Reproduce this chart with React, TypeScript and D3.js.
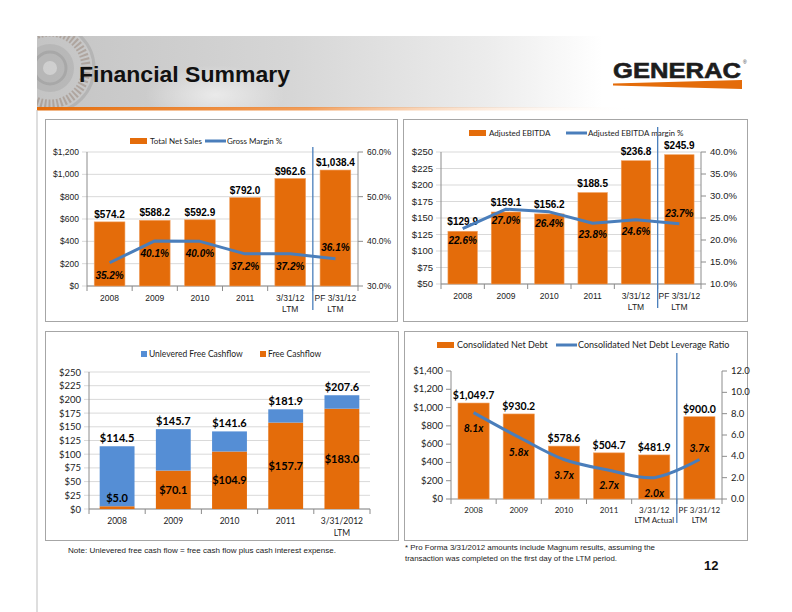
import React from 'react';
import * as d3 from 'd3';

// ---------- DATA ----------
const salesCats: string[][] = [["2008"], ["2009"], ["2010"], ["2011"], ["3/31/12", "LTM"], ["PF 3/31/12", "LTM"]];
const netSales = [574.2, 588.2, 592.9, 792.0, 962.6, 1038.4];
const grossMargin = [35.2, 40.1, 40.0, 37.2, 37.2, 36.1];
const salesTicks = [0, 200, 400, 600, 800, 1000, 1200];
const marginTicks = [30, 40, 50, 60];

const ebitdaCats: string[][] = [["2008"], ["2009"], ["2010"], ["2011"], ["3/31/12", "LTM"], ["PF 3/31/12", "LTM"]];
const ebitda = [129.9, 159.1, 156.2, 188.5, 236.8, 245.9];
const ebitdaMargin = [22.6, 27.0, 26.4, 23.8, 24.6, 23.7];
const ebitdaTicks = [50, 75, 100, 125, 150, 175, 200, 225, 250];
const ebitdaMarginTicks = [10, 15, 20, 25, 30, 35, 40];

const cashCats: string[][] = [["2008"], ["2009"], ["2010"], ["2011"], ["3/31/2012", "LTM"]];
const unleveredFcf = [114.5, 145.7, 141.6, 181.9, 207.6];
const freeCashflow = [5.0, 70.1, 104.9, 157.7, 183.0];
const cashTicks = [0, 25, 50, 75, 100, 125, 150, 175, 200, 225, 250];

const debtCats: string[][] = [["2008"], ["2009"], ["2010"], ["2011"], ["3/31/12", "LTM Actual"], ["PF 3/31/12", "LTM"]];
const netDebt = [1049.7, 930.2, 578.6, 504.7, 481.9, 900.0];
const leverage = [8.1, 5.8, 3.7, 2.7, 2.0, 3.7];
const debtTicks = [0, 200, 400, 600, 800, 1000, 1200, 1400];
const leverageTicks = [0, 2, 4, 6, 8, 10, 12];

// ---------- STYLE ----------
const ORANGE = '#E46C0A';
const BLUE_LINE = '#4A7EBB';
const BLUE_BAR = '#558ED5';
const GRID = '#D9D9D9';
const AXIS = '#8C8C8C';
const ARIAL = '"Liberation Sans", Arial, sans-serif';
const CALIBRI = 'Lato, "Open Sans", sans-serif';

const money = (v: number) => '$' + d3.format(',.1f')(v);
const moneyTick = (v: number) => '$' + d3.format(',')(v);

type LegendItem = { kind: 'rect' | 'line' | 'square'; color: string; label: string; x: number };

function Legend({ items, y, font, size }: { items: LegendItem[]; y: number; font: string; size: number }) {
  return (
    <g>
      {items.map((it, i) => (
        <g key={i}>
          {it.kind === 'rect' && <rect x={it.x} y={y - 3} width={17} height={6} fill={it.color} />}
          {it.kind === 'square' && <rect x={it.x} y={y - 3} width={6} height={6} fill={it.color} />}
          {it.kind === 'line' && <line x1={it.x} x2={it.x + 21} y1={y} y2={y} stroke={it.color} strokeWidth={3} />}
          <text x={it.x + (it.kind === 'square' ? 8 : it.kind === 'rect' ? 20 : 22)} y={y + 3} fontFamily={font} fontSize={size} fill="#222">
            {it.label}
          </text>
        </g>
      ))}
    </g>
  );
}

type ComboCfg = {
  cats: string[][];
  bars: number[];
  line: number[];
  left: number; right: number; top: number; bottom: number;
  yDomain: [number, number]; yTicks: number[]; yFmt: (v: number) => string;
  y2Domain: [number, number]; y2Ticks: number[]; y2Fmt: (v: number) => string;
  barFmt: (v: number) => string; lineFmt: (v: number) => string;
  grid: boolean; pad: number;
  tickFont: string; tickSize: number; catFont: string; catSize: number;
  valFont: string; valSize: number; valDy: number;
  lineDyBelow: number; lineDyAbove: number;
  catY: number; curve?: any;
  sepTop: number; sepBottom: number;
};

function Combo(p: ComboCfg) {
  const n = p.cats.length;
  const x = d3.scaleBand<number>().domain(d3.range(n)).range([p.left, p.right]).paddingInner(p.pad).paddingOuter(p.pad / 2);
  const y = d3.scaleLinear().domain(p.yDomain).range([p.bottom, p.top]);
  const y2 = d3.scaleLinear().domain(p.y2Domain).range([p.bottom, p.top]);
  const bw = x.bandwidth();
  const step = x.step();
  const cx = (i: number) => (x(i) as number) + bw / 2;
  const boundary = (i: number) => (i === n ? p.right : (x(i) as number) - (step * p.pad) / 2);
  const lineGen = d3.line<number>().x((_, i) => cx(i)).y((d) => y2(d)).curve(p.curve ?? d3.curveLinear);
  const sepX = boundary(n - 1);
  return (
    <g>
      {p.grid && p.yTicks.map((t) => (
        <line key={'g' + t} x1={p.left - 5} x2={p.right} y1={y(t)} y2={y(t)} stroke={GRID} strokeWidth={1} />
      ))}
      {!p.grid && p.yTicks.map((t) => (
        <line key={'g' + t} x1={p.left - 5} x2={p.left} y1={y(t)} y2={y(t)} stroke={AXIS} strokeWidth={1} />
      ))}
      {p.yTicks.map((t) => (
        <text key={'t' + t} x={p.left - 8} y={y(t) + 3} textAnchor="end" fontFamily={p.tickFont} fontSize={p.tickSize} fill="#222">{p.yFmt(t)}</text>
      ))}
      {p.y2Ticks.map((t) => (
        <g key={'r' + t}>
          <line x1={p.right} x2={p.right + 5} y1={y2(t)} y2={y2(t)} stroke={AXIS} />
          <text x={p.right + 9} y={y2(t) + 3} fontFamily={p.tickFont} fontSize={p.tickSize} fill="#222">{p.y2Fmt(t)}</text>
        </g>
      ))}
      <line x1={p.left} x2={p.left} y1={p.top} y2={p.bottom} stroke={AXIS} />
      <line x1={p.right} x2={p.right} y1={p.top} y2={p.bottom} stroke={AXIS} />
      <line x1={p.left} x2={p.right} y1={p.bottom} y2={p.bottom} stroke={AXIS} />
      {d3.range(n + 1).map((i) => (
        <line key={'b' + i} x1={boundary(i)} x2={boundary(i)} y1={p.bottom} y2={p.bottom + 5} stroke={AXIS} />
      ))}
      {p.bars.map((v, i) => (
        <rect key={'bar' + i} x={x(i)} y={y(v)} width={bw} height={p.bottom - y(v)} fill={ORANGE} stroke="#F0A060" strokeWidth={0.6} />
      ))}
      {p.bars.map((v, i) => (
        <text key={'bv' + i} x={cx(i)} y={y(v) - p.valDy} textAnchor="middle" fontFamily={p.valFont} fontWeight="bold" fontSize={p.valSize} fill="#000">{p.barFmt(v)}</text>
      ))}
      <path d={lineGen(p.line) || ''} fill="none" stroke={BLUE_LINE} strokeWidth={3} strokeLinejoin="round" />
      {p.line.map((v, i) => (
        <text key={'lv' + i} x={cx(i)} y={y2(v) + (i === n - 1 ? p.lineDyAbove : p.lineDyBelow)} textAnchor="middle" fontFamily={p.valFont} fontWeight="bold" fontStyle="italic" fontSize={p.valSize} fill="#000">{p.lineFmt(v)}</text>
      ))}
      {p.cats.map((c, i) => (
        <text key={'c' + i} x={cx(i)} y={p.catY} textAnchor="middle" fontFamily={p.catFont} fontSize={p.catSize} fill="#222">
          {c.map((s, j) => (
            <tspan key={j} x={cx(i)} dy={j === 0 ? 0 : p.catSize + 2}>{s}</tspan>
          ))}
        </text>
      ))}
      <line x1={sepX} x2={sepX} y1={p.sepTop} y2={p.sepBottom} stroke={BLUE_LINE} strokeWidth={1.3} />
    </g>
  );
}

function Stacked() {
  const left = 89, right = 370, top = 372, bottom = 509, pad = 0.38;
  const n = cashCats.length;
  const x = d3.scaleBand<number>().domain(d3.range(n)).range([left, right]).paddingInner(pad).paddingOuter(pad / 2);
  const y = d3.scaleLinear().domain([0, 250]).range([bottom, top]);
  const bw = x.bandwidth();
  const step = x.step();
  const cx = (i: number) => (x(i) as number) + bw / 2;
  const boundary = (i: number) => (i === n ? right : (x(i) as number) - (step * pad) / 2);
  return (
    <g>
      {cashTicks.map((t) => (
        <g key={t}>
          <line x1={left - 5} x2={right} y1={y(t)} y2={y(t)} stroke={GRID} />
          <text x={left - 8} y={y(t) + 3.5} textAnchor="end" fontFamily={CALIBRI} fontSize={9.5} fill="#222">{moneyTick(t)}</text>
        </g>
      ))}
      <line x1={left} x2={left} y1={top} y2={bottom} stroke={AXIS} />
      <line x1={left} x2={right} y1={bottom} y2={bottom} stroke={AXIS} />
      {d3.range(n + 1).map((i) => (
        <line key={'b' + i} x1={boundary(i)} x2={boundary(i)} y1={bottom} y2={bottom + 5} stroke={AXIS} />
      ))}
      {freeCashflow.map((v, i) => (
        <g key={'s' + i}>
          <rect x={x(i)} y={y(v)} width={bw} height={bottom - y(v)} fill={ORANGE} />
          <rect x={x(i)} y={y(unleveredFcf[i])} width={bw} height={y(v) - y(unleveredFcf[i])} fill={BLUE_BAR} />
        </g>
      ))}
      {unleveredFcf.map((v, i) => (
        <text key={'u' + i} x={cx(i)} y={y(v) - 4} textAnchor="middle" fontFamily={CALIBRI} fontWeight="bold" fontSize={11} fill="#000">{money(v)}</text>
      ))}
      {freeCashflow.map((v, i) => {
        const h = bottom - y(v);
        const ty = h < 16 ? y(v) - 4 : (y(v) + bottom) / 2 + 4;
        return (
          <text key={'f' + i} x={cx(i)} y={ty} textAnchor="middle" fontFamily={CALIBRI} fontWeight="bold" fontSize={11} fill="#000">{money(v)}</text>
        );
      })}
      {cashCats.map((c, i) => (
        <text key={'c' + i} x={cx(i)} y={524} textAnchor="middle" fontFamily={CALIBRI} fontSize={8.5} fill="#222">
          {c.map((s, j) => (
            <tspan key={j} x={cx(i)} dy={j === 0 ? 0 : 11.5}>{s}</tspan>
          ))}
        </text>
      ))}
    </g>
  );
}

function Header() {
  return (
    <g>
      <defs>
        <linearGradient id="bannerG" x1="0" x2="1" y1="0" y2="0">
          <stop offset="0" stopColor="#c4c4c4" />
          <stop offset="0.35" stopColor="#d6d6d6" />
          <stop offset="0.62" stopColor="#ececec" />
          <stop offset="0.78" stopColor="#ffffff" />
          <stop offset="1" stopColor="#ffffff" />
        </linearGradient>
        <linearGradient id="orangeG" x1="0" x2="1" y1="0" y2="0">
          <stop offset="0" stopColor={ORANGE} />
          <stop offset="0.45" stopColor="#F08C3C" stopOpacity="0.85" />
          <stop offset="1" stopColor="#ffffff" stopOpacity="0" />
        </linearGradient>
        <radialGradient id="glow" cx="0.5" cy="0.5" r="0.5">
          <stop offset="0" stopColor="#ffffff" stopOpacity="0.55" />
          <stop offset="1" stopColor="#ffffff" stopOpacity="0" />
        </radialGradient>
        <clipPath id="bannerClip">
          <rect x={37} y={36} width={90} height={72} />
        </clipPath>
      </defs>
      <rect x={37} y={36} width={725} height={72} fill="url(#bannerG)" />
      <ellipse cx={215} cy={95} rx={70} ry={30} fill="url(#glow)" />
      <g clipPath="url(#bannerClip)" opacity={0.3}>
        <circle cx={50} cy={68} r={44} fill="none" stroke="#8a8a8a" strokeWidth={3} />
        <circle cx={50} cy={68} r={36} fill="none" stroke="#7b5a44" strokeWidth={9} strokeDasharray="2 2" />
        <circle cx={50} cy={68} r={24} fill="#9a9a9a" />
        <circle cx={50} cy={68} r={16} fill="none" stroke="#666" strokeWidth={3} />
        <circle cx={50} cy={68} r={7} fill="#e8e8e8" />
      </g>
      <rect x={37} y={107} width={600} height={3.5} fill="url(#orangeG)" />
      <text x={79} y={82} fontFamily={ARIAL} fontWeight="bold" fontSize={22} fill="#111" textLength={211} lengthAdjust="spacingAndGlyphs">Financial Summary</text>
      <text x={613} y={78} fontFamily={ARIAL} fontWeight="bold" fontSize={22} fill="#1d1d1d" textLength={128} lengthAdjust="spacingAndGlyphs" stroke="#1d1d1d" strokeWidth={0.6}>GENERAC</text>
      <text x={743} y={64} fontFamily={ARIAL} fontSize={5} fill="#333">®</text>
      <polygon points="613,83.5 742,80 742,89 613,85.5" fill={ORANGE} />
    </g>
  );
}

export default function App() {
  return (
    <svg width={792} height={612} viewBox="0 0 792 612" style={{ position: 'absolute', left: 0, top: 0, background: '#fff' }}>
      <rect x={0} y={0} width={792} height={612} fill="#fff" />
      <Header />
      <line x1={37} x2={37} y1={110} y2={612} stroke="#bdbdbd" />
      {/* panels */}
      <rect x={45.5} y={119.5} width={352} height={202} fill="#fff" stroke="#a6a6a6" />
      <rect x={403.5} y={119.5} width={344} height={202} fill="#fff" stroke="#a6a6a6" />
      <rect x={45.5} y={331.5} width={353} height={209} fill="#fff" stroke="#a6a6a6" />
      <rect x={404.5} y={331.5} width={343} height={209} fill="#fff" stroke="#a6a6a6" />

      {/* Chart 1 */}
      <Legend y={141} font={CALIBRI} size={8} items={[
        { kind: 'rect', color: ORANGE, label: 'Total Net Sales', x: 130 },
        { kind: 'line', color: BLUE_LINE, label: 'Gross Margin %', x: 205 },
      ]} />
      <Combo cats={salesCats} bars={netSales} line={grossMargin}
        left={87} right={358} top={152} bottom={286}
        yDomain={[0, 1200]} yTicks={salesTicks} yFmt={moneyTick}
        y2Domain={[30, 60]} y2Ticks={marginTicks} y2Fmt={(v) => v.toFixed(1) + '%'}
        barFmt={money} lineFmt={(v) => v.toFixed(1) + '%'}
        grid pad={0.32} tickFont={ARIAL} tickSize={8.5} catFont={ARIAL} catSize={8.5}
        valFont={ARIAL} valSize={10} valDy={4} lineDyBelow={16} lineDyAbove={-8} catY={301}
        sepTop={147} sepBottom={310} />

      {/* Chart 2 */}
      <Legend y={133} font={CALIBRI} size={8} items={[
        { kind: 'rect', color: ORANGE, label: 'Adjusted EBITDA', x: 469 },
        { kind: 'line', color: BLUE_LINE, label: 'Adjusted EBITDA  margin %', x: 566 },
      ]} />
      <Combo cats={ebitdaCats} bars={ebitda} line={ebitdaMargin}
        left={441} right={701} top={152} bottom={284}
        yDomain={[50, 250]} yTicks={ebitdaTicks} yFmt={moneyTick}
        y2Domain={[10, 40]} y2Ticks={ebitdaMarginTicks} y2Fmt={(v) => v.toFixed(1) + '%'}
        barFmt={money} lineFmt={(v) => v.toFixed(1) + '%'}
        grid pad={0.32} tickFont={ARIAL} tickSize={9.5} catFont={ARIAL} catSize={8.5}
        valFont={ARIAL} valSize={10} valDy={6} lineDyBelow={15} lineDyAbove={-7} catY={299}
        sepTop={127} sepBottom={308} />

      {/* Chart 3 */}
      <Legend y={354} font={CALIBRI} size={8.5} items={[
        { kind: 'square', color: BLUE_BAR, label: 'Unlevered Free Cashflow', x: 141 },
        { kind: 'square', color: ORANGE, label: 'Free Cashflow', x: 260 },
      ]} />
      <Stacked />

      {/* Chart 4 */}
      <Legend y={345} font={CALIBRI} size={9} items={[
        { kind: 'rect', color: ORANGE, label: 'Consolidated Net Debt', x: 437 },
        { kind: 'line', color: BLUE_LINE, label: 'Consolidated Net Debt Leverage Ratio', x: 556 },
      ]} />
      <Combo cats={debtCats} bars={netDebt} line={leverage}
        left={451} right={722} top={371} bottom={499}
        yDomain={[0, 1400]} yTicks={debtTicks} yFmt={moneyTick}
        y2Domain={[0, 12]} y2Ticks={leverageTicks} y2Fmt={(v) => v.toFixed(1)}
        barFmt={money} lineFmt={(v) => v.toFixed(1) + 'x'}
        grid={false} pad={0.31} tickFont={CALIBRI} tickSize={9.5} catFont={CALIBRI} catSize={8}
        valFont={CALIBRI} valSize={10.5} valDy={4} lineDyBelow={19} lineDyAbove={-8} catY={513}
        curve={d3.curveCatmullRom.alpha(0.5)} sepTop={353} sepBottom={523} />

      {/* footnotes */}
      <text x={68} y={553} fontFamily={ARIAL} fontSize={7.8} fill="#222" textLength={268} lengthAdjust="spacingAndGlyphs">Note:  Unlevered free cash flow = free cash flow plus cash interest expense.</text>
      <text x={405} y={550} fontFamily={ARIAL} fontSize={7.8} fill="#222" textLength={250} lengthAdjust="spacingAndGlyphs">* Pro Forma 3/31/2012 amounts include Magnum results, assuming the</text>
      <text x={405} y={561} fontFamily={ARIAL} fontSize={7.8} fill="#222" textLength={212} lengthAdjust="spacingAndGlyphs">transaction was completed on the first day of the LTM period.</text>
      <text x={704} y={570} fontFamily={ARIAL} fontWeight="bold" fontSize={13} fill="#111">12</text>
    </svg>
  );
}
